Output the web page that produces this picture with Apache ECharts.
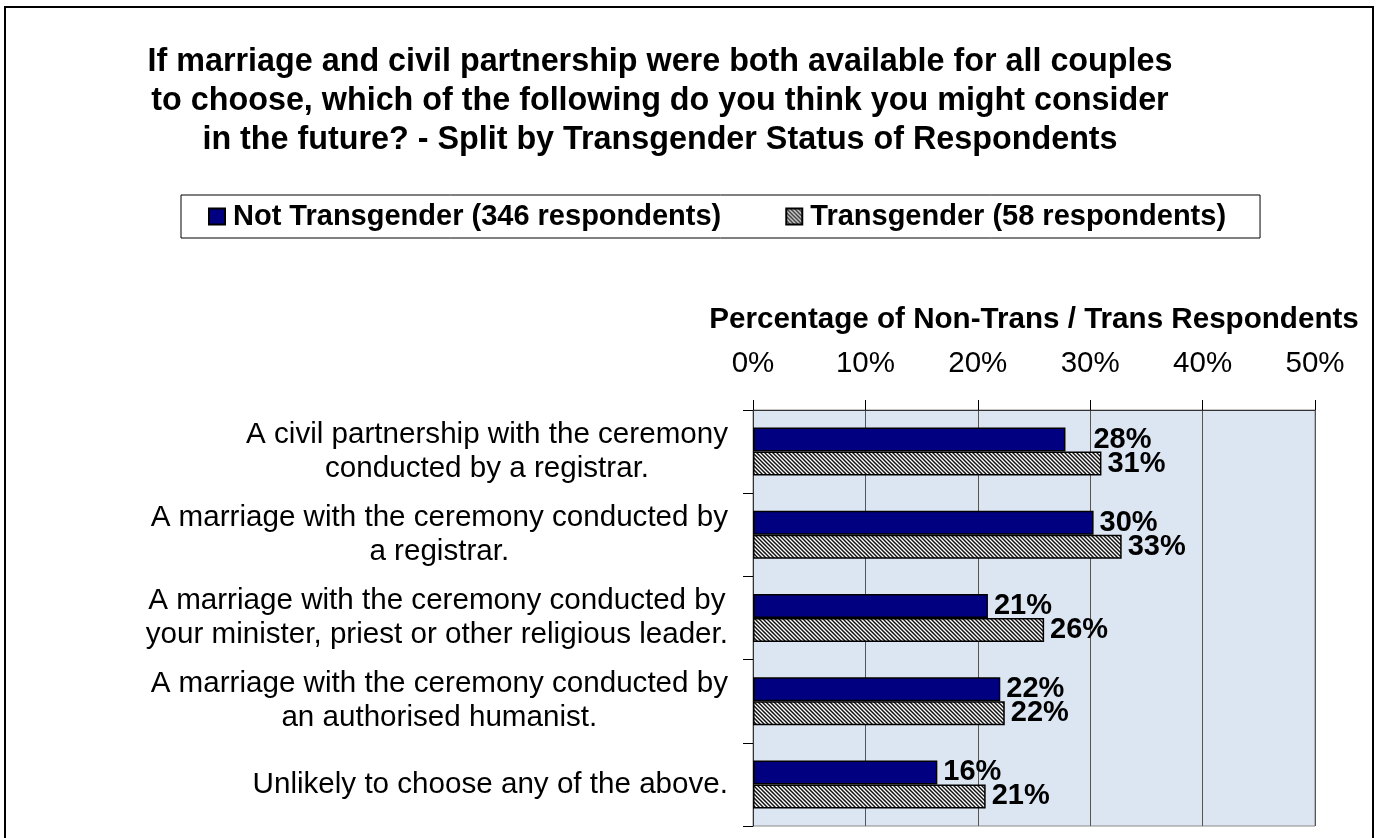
<!DOCTYPE html>
<html>
<head>
<meta charset="utf-8">
<script src="https://cdn.jsdelivr.net/npm/echarts@6/dist/echarts.min.js"></script>
<style>
  html, body { margin: 0; padding: 0; background: #fff; overflow: hidden; }
  #main { width: 1378px; height: 838px; }
  .frame {
    position: absolute;
    left: 4px;
    top: 6px;
    width: 1366px;
    height: 900px;
    border: 2px solid #000;
    pointer-events: none;
  }
</style>
</head>
<body>
<div id="main"></div>
<div class="frame"></div>
<script>
// 类别（从上到下）
const categories = [
  "A civil partnership with the ceremony\nconducted by a registrar.",
  "A marriage with the ceremony conducted by\na registrar.",
  "A marriage with the ceremony conducted by\nyour minister, priest or other religious leader.",
  "A marriage with the ceremony conducted by\nan authorised humanist.",
  "Unlikely to choose any of the above."
];

const seriesNames = ["Not Transgender (346 respondents)", "Transgender (58 respondents)"];

// 百分比
const notTransValues = [27.8, 30.3, 20.9, 22.0, 16.4];
const transValues = [31.0, 32.8, 25.9, 22.4, 20.7];

const xTicks = [0, 10, 20, 30, 40, 50];

const FONT = '"Liberation Sans", Arial, sans-serif';

// 斜线填充
function makeHatch() {
  const c = document.createElement("canvas");
  c.width = 8;
  c.height = 8;
  const g = c.getContext("2d");
  g.fillStyle = "#fff";
  g.fillRect(0, 0, 8, 8);
  g.strokeStyle = "#111";
  g.lineWidth = 1.5;
  for (let k = -3; k <= 3; k++) {
    g.beginPath();
    g.moveTo(k * 4 - 2, -2);
    g.lineTo(k * 4 + 10, 10);
    g.stroke();
  }
  return c;
}

const labelStyle = {
  show: true,
  position: "right",
  distance: 6,
  color: "#000",
  fontSize: 29,
  fontWeight: "bold",
  fontFamily: FONT,
  formatter: (p) => Math.round(p.value) + "%",
};

const chart = echarts.init(document.getElementById("main"));

const options = {
  animation: false,
  textStyle: { fontFamily: FONT },
  title: {
    text: "If marriage and civil partnership were both available for all couples\nto choose, which of the following do you think you might consider\nin the future? - Split by Transgender Status of Respondents",
    left: 660,
    top: 43,
    padding: 0,
    textAlign: "center",
    textStyle: {
      fontSize: 32.3,
      fontWeight: "bold",
      color: "#000",
      lineHeight: 39,
      fontFamily: FONT,
    },
  },
  legend: {
    left: 181,
    top: 195,
    orient: "horizontal",
    padding: [6, 34, 6, 27],
    itemGap: 64,
    itemWidth: 16,
    itemHeight: 16,
    borderColor: "#000",
    borderWidth: 1,
    icon: "rect",
    textStyle: {
      fontSize: 29,
      fontWeight: "bold",
      color: "#000",
      lineHeight: 31,
      padding: [0, 0, 0, 3],
      fontFamily: FONT,
    },
    data: seriesNames,
  },
  grid: {
    left: 753,
    top: 410,
    width: 562,
    height: 416,
    containLabel: false,
    outerBoundsMode: "none",
    show: true,
    backgroundColor: "#DCE6F2",
    borderColor: "#8a8a8a",
    borderWidth: 1,
  },
  xAxis: {
    type: "value",
    position: "top",
    min: xTicks[0],
    max: xTicks[xTicks.length - 1],
    interval: 10,
    name: "Percentage of Non-Trans / Trans Respondents",
    nameLocation: "middle",
    nameGap: 75,
    nameTextStyle: {
      fontSize: 29.6,
      fontWeight: "bold",
      color: "#000",
      fontFamily: FONT,
    },
    axisLine: { show: true, lineStyle: { color: "#333", width: 1 } },
    axisTick: { show: true, length: 10, lineStyle: { color: "#000" } },
    axisLabel: {
      margin: 31,
      fontSize: 29.5,
      color: "#000",
      fontFamily: FONT,
      formatter: "{value}%",
    },
    splitLine: { show: true, lineStyle: { color: "#555", width: 1 } },
  },
  yAxis: {
    type: "category",
    inverse: true,
    data: categories,
    axisLine: { show: true, lineStyle: { color: "#333", width: 1 } },
    axisTick: { show: true, length: 10, lineStyle: { color: "#000" } },
    axisLabel: {
      margin: 25,
      color: "#000",
      fontFamily: FONT,
      formatter: (v) => v.split("\n").map((s) => "{c|" + s + "}").join("\n"),
      rich: {
        c: {
          align: "center",
          fontSize: 29.6,
          lineHeight: 34,
          color: "#000",
          fontFamily: FONT,
        },
      },
    },
    splitLine: { show: false },
  },
  series: [
    {
      name: seriesNames[0],
      type: "bar",
      barWidth: 24,
      barGap: "0%",
      itemStyle: { color: "#000080", borderColor: "#000", borderWidth: 1.5 },
      label: labelStyle,
      data: notTransValues.map((v, i) =>
        i === 0 ? { value: v, label: { distance: 28 } } : v
      ),
    },
    {
      name: seriesNames[1],
      type: "bar",
      barWidth: 24,
      barGap: "0%",
      itemStyle: {
        color: { image: makeHatch(), repeat: "repeat" },
        borderColor: "#000",
        borderWidth: 1.5,
      },
      label: labelStyle,
      data: transValues,
    },
  ],
};

chart.setOption(options);

window.addEventListener("resize", () => {
  chart.resize();
});
</script>
</body>
</html>
